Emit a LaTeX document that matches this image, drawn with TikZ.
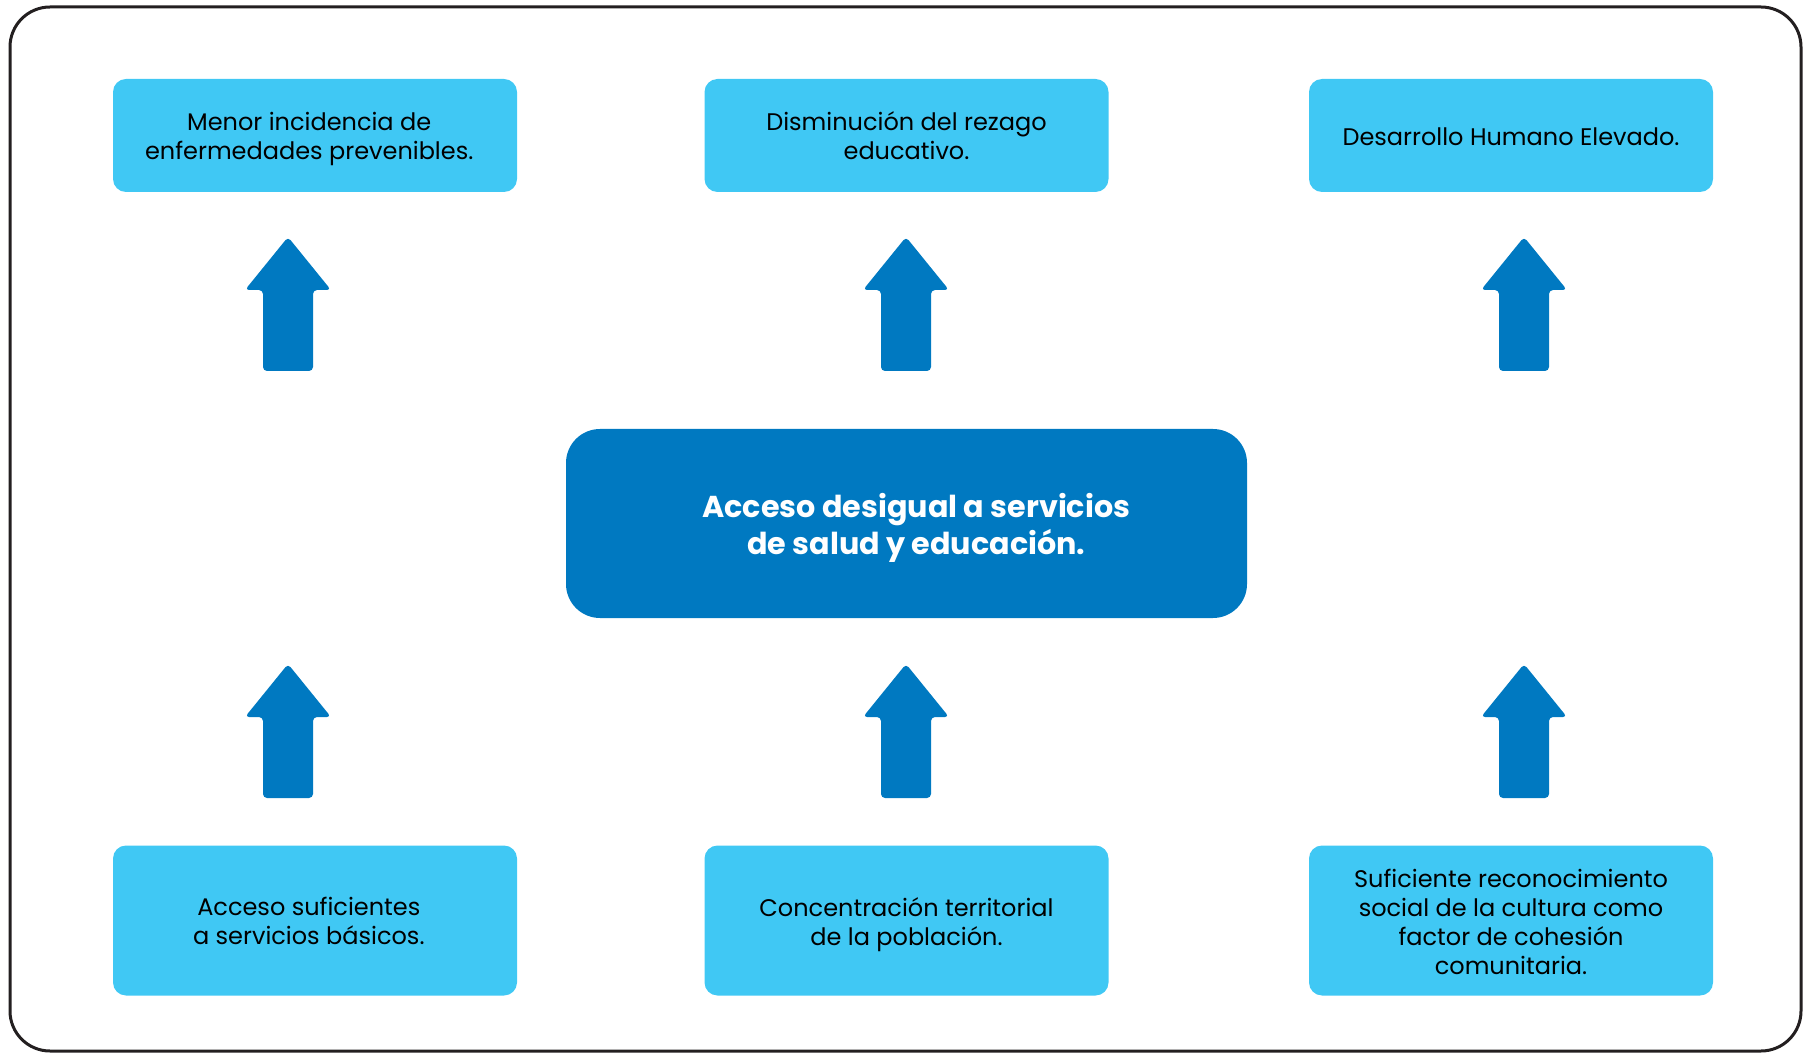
\documentclass[tikz,border=0pt]{standalone}
\usepackage{fontspec}
\setmainfont{Poppins}
\usetikzlibrary{positioning}
\definecolor{lightblue}{HTML}{40C8F4}
\definecolor{darkblue}{HTML}{0079C1}
\definecolor{framegray}{HTML}{231F20}

\begin{document}
\begin{tikzpicture}[x=0.5pt, y=-0.5pt,
  box/.style={fill=lightblue, rounded corners=6.5pt, minimum width=202pt, minimum height=56.5pt, inner sep=0pt},
  lowbox/.style={box, minimum height=75pt},
  mainbox/.style={fill=darkblue, rounded corners=17pt, minimum width=340.5pt, minimum height=94.5pt, inner sep=0pt},
  boxtext/.style={inner sep=0pt, align=center, font=\fontsize{12}{14.5}\selectfont},
  maintext/.style={inner sep=0pt, align=center, text=white, font=\fontsize{15.1}{18.5}\selectfont\bfseries},
  uparrow/.pic={
    \fill[darkblue, rounded corners=2pt] (0,0) -- (43,53) -- (25,53) -- (25,134) -- (-25,134) -- (-25,53) -- (-43,53) -- cycle;
  }]

  \useasboundingbox (0,0) rectangle (1805,1053);

  % Frame
  \draw[framegray, line width=1.5pt, rounded corners=20pt] (10,7) rectangle (1801,1051);

  % Top row
  \node[box] (salud) at (315,135.5) {};
  \node[box] (rezago) at (906.5,135.5) {};
  \node[box] (humano) at (1511,135.5) {};
  \node[boxtext, xshift=-2.9pt, yshift=-1.7pt] (saludtxt) at (salud) {Menor incidencia de\\enfermedades prevenibles.};
  \node[boxtext] (rezagotxt) at (rezago) {Disminución del rezago\\educativo.};
  \node[boxtext, yshift=-0.6pt] (humanotxt) at (humano) {Desarrollo Humano Elevado.};

  % Central problem
  \node[mainbox] (acceso) at (906.5,523.5) {};
  \node[maintext, xshift=4.9pt, yshift=-2.3pt] (accesotxt) at (acceso) {Acceso desigual a servicios\\de salud y educación.};

  % Bottom row
  \node[lowbox] (basicos) at (315,920.5) {};
  \node[lowbox] (poblacion) at (906.5,920.5) {};
  \node[lowbox] (cultura) at (1511,920.5) {};
  \node[boxtext, xshift=-3.1pt, yshift=-0.3pt] (basicostxt) at (basicos) {Acceso suficientes\\a servicios básicos.};
  \node[boxtext, yshift=-2pt] (poblaciontxt) at (poblacion) {Concentración territorial\\de la población.};
  \node[boxtext, yshift=-0.9pt] (culturatxt) at (cultura) {Suficiente reconocimiento\\social de la cultura como\\factor de cohesión\\comunitaria.};

  % Arrows
  \foreach \ax in {288,906,1524} {
    \pic at (\ax,237) {uparrow};
    \pic at (\ax,664) {uparrow};
  }

\end{tikzpicture}
\end{document}
